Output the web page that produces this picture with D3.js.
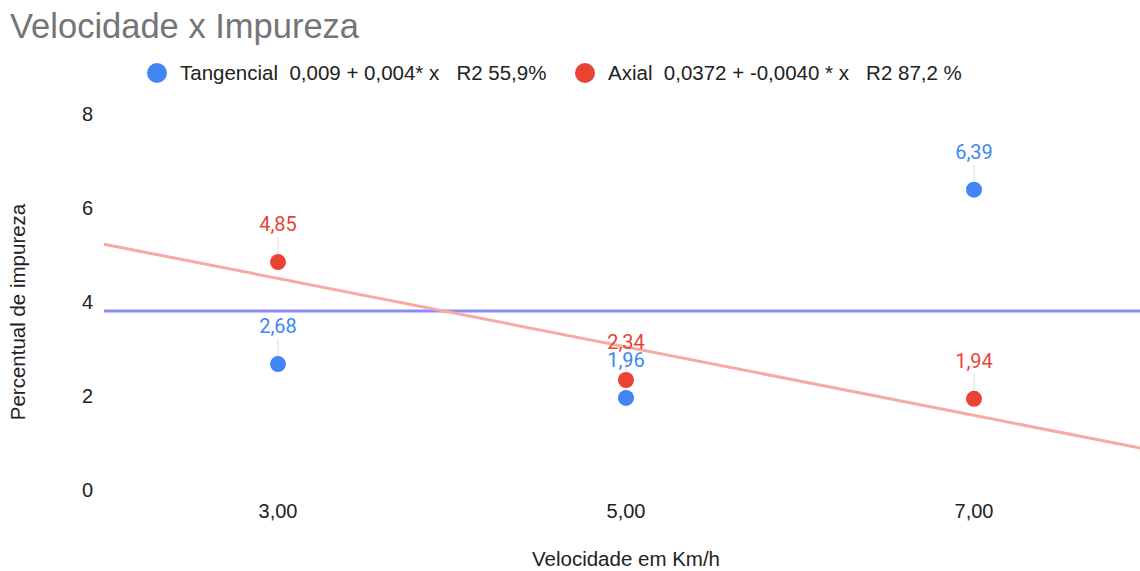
<!DOCTYPE html>
<html>
<head>
<meta charset="utf-8">
<script src="https://cdn.jsdelivr.net/npm/d3@7"></script>
<style>
  body { margin: 0; background: #fff; }
  svg { display: block; font-family: "Liberation Sans", Arial, sans-serif; }
</style>
</head>
<body>
<script>
// velocidade x impureza, two series + trend lines

var velocidades = [3, 5, 7];
var tangencial = [2.68, 1.96, 6.39];
var axial = [4.85, 2.34, 1.94];
var yTicks = [0, 2, 4, 6, 8];
var xTicks = [3, 5, 7];
// trend lines (end points)
var tangTrend = [[2, 3.81], [8, 3.81]];
var axialTrend = [[2, 5.23], [8, 0.86]];
var legendTexts = ['Tangencial  0,009 + 0,004* x   R2 55,9%', 'Axial  0,0372 + -0,0040 * x   R2 87,2 %'];

var W = 1140, H = 571;
var blue = '#4285f4', red = '#ea4335';

var svg = d3.select('body').append('svg').attr('width', W).attr('height', H);

var x = d3.scaleLinear().domain([2, 8]).range([104, 1148]);
var y = d3.scaleLinear().domain([0, 8]).range([490, 114]);

var fmt = function(v, n) { return v.toFixed(n).replace('.', ','); };

// title
svg.append('text').attr('x', 10).attr('y', 38)
  .attr('font-size', 34.5).attr('fill', '#757575')
  .text('Velocidade x Impureza');

// legend
var legX = [157, 585];
[blue, red].forEach(function(c, i) {
  svg.append('circle').attr('cx', legX[i]).attr('cy', 73).attr('r', 10).attr('fill', c);
  svg.append('text').attr('x', legX[i] + 23).attr('y', 80)
    .attr('font-size', 20.5).attr('fill', '#222')
    .style('white-space', 'pre')
    .text(legendTexts[i]);
});

// y axis labels
svg.append('g').selectAll('text').data(yTicks).enter().append('text')
  .attr('x', 93).attr('y', function(d) { return y(d) + 7; })
  .attr('text-anchor', 'end').attr('font-size', 20).attr('fill', '#222')
  .text(function(d) { return d; });

svg.append('text')
  .attr('transform', 'translate(25,312) rotate(-90)')
  .attr('text-anchor', 'middle').attr('font-size', 20.5).attr('fill', '#222')
  .text('Percentual de impureza');

// x axis labels
svg.append('g').selectAll('text').data(xTicks).enter().append('text')
  .attr('x', function(d) { return x(d); }).attr('y', 518)
  .attr('text-anchor', 'middle').attr('font-size', 20).attr('fill', '#222')
  .text(function(d) { return fmt(d, 2); });

svg.append('text').attr('x', 626).attr('y', 566)
  .attr('text-anchor', 'middle').attr('font-size', 20.5).attr('fill', '#222')
  .text('Velocidade em Km/h');

// trend lines
var line = d3.line().x(function(d) { return x(d[0]); }).y(function(d) { return y(d[1]); });
svg.append('path').datum(tangTrend).attr('d', line)
  .attr('stroke', '#8c8cf7').attr('stroke-width', 3).attr('fill', 'none');
svg.append('path').datum(axialTrend).attr('d', line)
  .attr('stroke', '#f5aba4').attr('stroke-width', 3).attr('fill', 'none');

// points, leaders, labels
var series = [{vals: tangencial, c: blue}, {vals: axial, c: red}];
series.forEach(function(s) {
  var g = svg.append('g');
  var pts = velocidades.map(function(v, i) { return {x: v, y: s.vals[i]}; });
  g.selectAll('line').data(pts).enter().append('line')
    .attr('x1', function(d) { return x(d.x); }).attr('x2', function(d) { return x(d.x); })
    .attr('y1', function(d) { return y(d.y) - 25; }).attr('y2', function(d) { return y(d.y) - 8; })
    .attr('stroke', '#ddd').attr('stroke-width', 1);
  g.selectAll('circle').data(pts).enter().append('circle')
    .attr('cx', function(d) { return x(d.x); }).attr('cy', function(d) { return y(d.y); })
    .attr('r', 8).attr('fill', s.c);
});
series.forEach(function(s) {
  var pts = velocidades.map(function(v, i) { return {x: v, y: s.vals[i]}; });
  svg.append('g').selectAll('text').data(pts).enter().append('text')
    .attr('x', function(d) { return x(d.x); }).attr('y', function(d) { return y(d.y) - 31; })
    .attr('text-anchor', 'middle').attr('font-size', 20).attr('fill', s.c)
    .attr('font-family', 'Roboto, Arial, sans-serif')
    .text(function(d) { return fmt(d.y, 2); });
});
</script>
</body>
</html>
